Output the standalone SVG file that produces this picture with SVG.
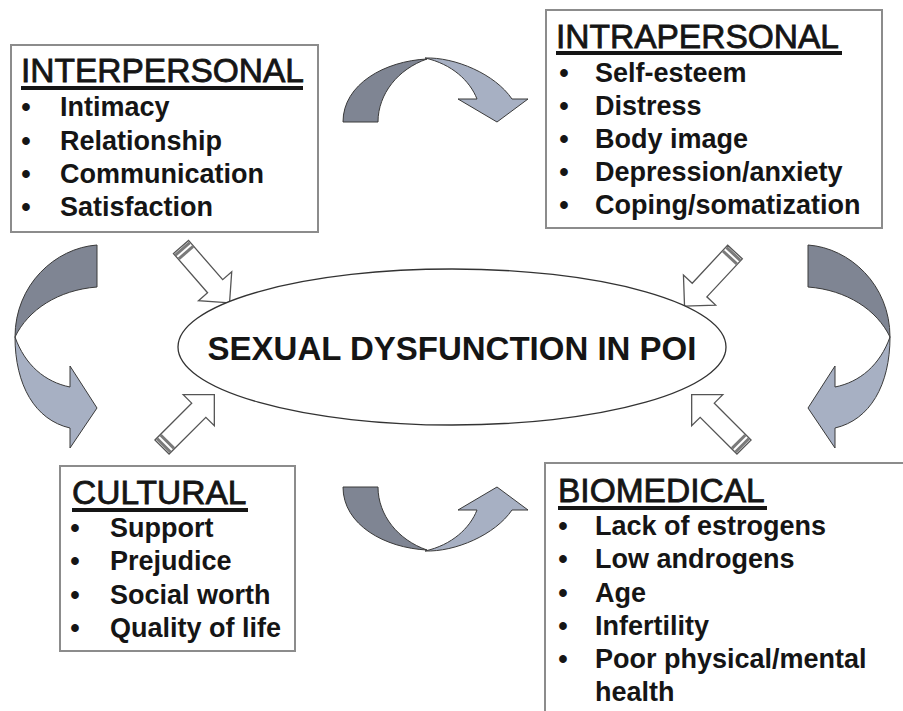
<svg xmlns="http://www.w3.org/2000/svg" xmlns:xlink="http://www.w3.org/1999/xlink" width="903" height="711" viewBox="0 0 903 711">
<style>
.box{fill:#fff;stroke:#8c8c8c;stroke-width:2}
.title{font-family:"Liberation Sans",Arial,sans-serif;font-size:33.5px;fill:#151515;stroke:#151515;stroke-width:0.8}
.item{font-family:"Liberation Sans",Arial,sans-serif;font-size:27px;font-weight:bold;fill:#151515}
.center{font-family:"Liberation Sans",Arial,sans-serif;font-size:33px;font-weight:bold;fill:#151515}
.ul{fill:#151515}
.dark{fill:#7f8593;stroke:#3a3a3a;stroke-width:1}
.light{fill:#a7b0c3;stroke:#3a3a3a;stroke-width:1}
.blk{fill:#fff;stroke:#555;stroke-width:1.3}
.stripe{fill:#7a7a7a}
</style>
<defs>
<g id="ba">
<polygon class="blk" points="0,-10 52,-10 52,-22 74,0 52,22 52,10 0,10"/>
<rect class="stripe" x="1" y="-9.5" width="3" height="19"/>
<rect class="stripe" x="6" y="-9.5" width="3" height="19"/>
</g>
<g id="bottomArrow">
<path class="dark" d="M343,487 L378,487 C378,515 398,540 427,550 C385,548 343,525 343,487 Z"/>
<path class="light" d="M425,551 C455,552 495,535 512,510 L528,510 L497,487 L458,510 L477,510 C470,528 452,545 425,551 Z"/>
</g>
<g id="leftArrow">
<path class="dark" d="M97,245 L97,287 C58,290 28,310 15,337 C15,285 55,248 97,245 Z"/>
<path class="light" d="M15,337 C15,385 35,420 70,428 L70,448 L97,408 L70,366 L70,387 C45,382 25,365 15,337 Z"/>
</g>
</defs>

<g id="connectors">
<use xlink:href="#bottomArrow" href="#bottomArrow"/>
<use xlink:href="#bottomArrow" href="#bottomArrow" transform="translate(0,609) scale(1,-1)"/>
<use xlink:href="#leftArrow" href="#leftArrow"/>
<use xlink:href="#leftArrow" href="#leftArrow" transform="translate(905,0) scale(-1,1)"/>
<use xlink:href="#ba" href="#ba" transform="translate(181,247) rotate(49)"/>
<use xlink:href="#ba" href="#ba" transform="translate(162,447) rotate(-45)"/>
<use xlink:href="#ba" href="#ba" transform="translate(735,252) rotate(133)"/>
<use xlink:href="#ba" href="#ba" transform="translate(744,447) rotate(-135)"/>
</g>

<g id="center">
<ellipse cx="452" cy="347" rx="274" ry="78" fill="#fff" stroke="#333" stroke-width="1.3"/>
<text class="center" x="452" y="360" text-anchor="middle">SEXUAL DYSFUNCTION IN POI</text>
</g>

<g id="interpersonal">
<rect class="box" x="11" y="45" width="307" height="187"/>
<text class="title" x="21" y="82">INTERPERSONAL</text>
<rect class="ul" x="21" y="86" width="282" height="4"/>
<text class="item" x="26" y="116" text-anchor="middle">•</text><text class="item" x="60" y="116">Intimacy</text>
<text class="item" x="26" y="150" text-anchor="middle">•</text><text class="item" x="60" y="150">Relationship</text>
<text class="item" x="26" y="183" text-anchor="middle">•</text><text class="item" x="60" y="183">Communication</text>
<text class="item" x="26" y="216" text-anchor="middle">•</text><text class="item" x="60" y="216">Satisfaction</text>
</g>

<g id="intrapersonal">
<rect class="box" x="546" y="10" width="336" height="218"/>
<text class="title" x="556" y="48">INTRAPERSONAL</text>
<rect class="ul" x="556" y="51" width="286" height="4"/>
<text class="item" x="564" y="82" text-anchor="middle">•</text><text class="item" x="595" y="82">Self-esteem</text>
<text class="item" x="564" y="115" text-anchor="middle">•</text><text class="item" x="595" y="115">Distress</text>
<text class="item" x="564" y="148" text-anchor="middle">•</text><text class="item" x="595" y="148">Body image</text>
<text class="item" x="564" y="181" text-anchor="middle">•</text><text class="item" x="595" y="181">Depression/anxiety</text>
<text class="item" x="564" y="214" text-anchor="middle">•</text><text class="item" x="595" y="214">Coping/somatization</text>
</g>

<g id="cultural">
<rect class="box" x="60" y="466" width="235" height="185"/>
<text class="title" x="72" y="504">CULTURAL</text>
<rect class="ul" x="72" y="508" width="176" height="4"/>
<text class="item" x="75" y="537" text-anchor="middle">•</text><text class="item" x="110" y="537">Support</text>
<text class="item" x="75" y="570" text-anchor="middle">•</text><text class="item" x="110" y="570">Prejudice</text>
<text class="item" x="75" y="604" text-anchor="middle">•</text><text class="item" x="110" y="604">Social worth</text>
<text class="item" x="75" y="637" text-anchor="middle">•</text><text class="item" x="110" y="637">Quality of life</text>
</g>

<g id="biomedical">
<rect class="box" x="545" y="463" width="400" height="300"/>
<text class="title" x="558" y="502">BIOMEDICAL</text>
<rect class="ul" x="558" y="506" width="209" height="4"/>
<text class="item" x="563" y="535" text-anchor="middle">•</text><text class="item" x="595" y="535">Lack of estrogens</text>
<text class="item" x="563" y="568" text-anchor="middle">•</text><text class="item" x="595" y="568">Low androgens</text>
<text class="item" x="563" y="602" text-anchor="middle">•</text><text class="item" x="595" y="602">Age</text>
<text class="item" x="563" y="635" text-anchor="middle">•</text><text class="item" x="595" y="635">Infertility</text>
<text class="item" x="563" y="668" text-anchor="middle">•</text><text class="item" x="595" y="668">Poor physical/mental</text>
<text class="item" x="595" y="701">health</text>
</g>
</svg>
